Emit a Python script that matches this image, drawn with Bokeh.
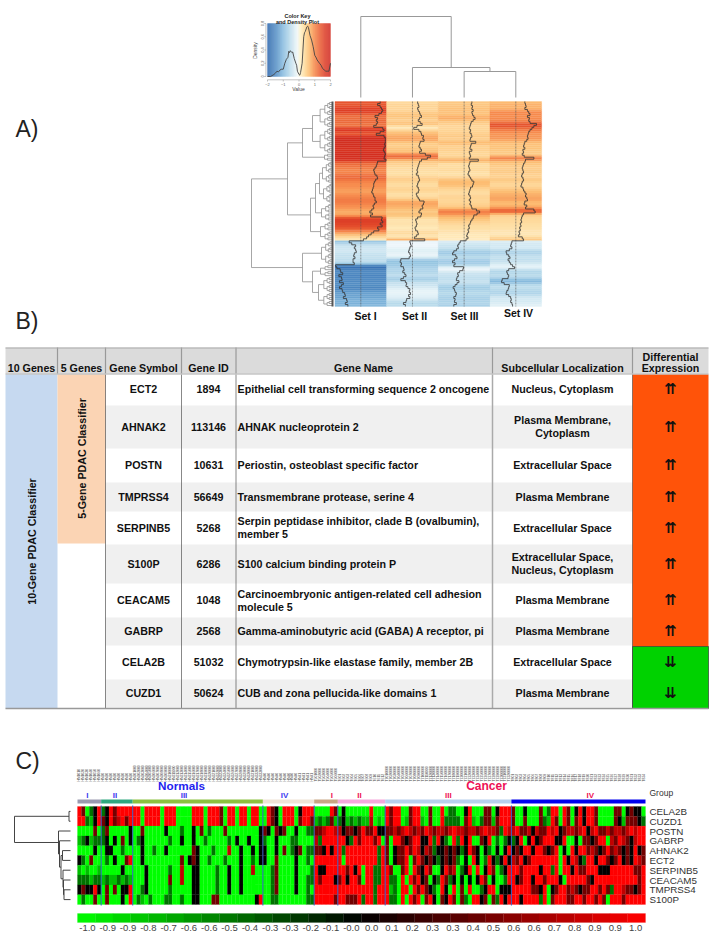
import numpy as np
from bokeh.plotting import figure
from bokeh.models import Range1d, ColumnDataSource, LinearColorMapper
from bokeh.core.properties import value
from bokeh.embed import file_html
from bokeh.resources import INLINE

FONT = value("Liberation Sans")

# ---------- Panel A data ----------
set_names = ["Set I", "Set II", "Set III", "Set IV"]
set_I = [1.5,1.3,1.5,1.6,1.7,1.6,1.4,1.1,1.3,1.2,
         1.3,1.2,1.0,1.7,1.8,1.5,1.2,1.8,1.9,1.9,
         1.9,1.85,1.9,1.8,1.75,1.85,1.9,1.85,1.8,1.95,
         1.3,1.25,1.2,1.1,1.0,1.05,1.1,1.25,1.3,1.15,
         1.05,1.0,1.0,0.95,0.9,0.85,0.95,1.0,1.1,1.1,
         1.2,1.05,0.95,1.0,0.85,0.7,0.9,0.75,
         1.65,1.6,1.7,1.5,1.65,1.3,1.4,
         1.0,0.8,0.6,0.45,0.2,
         -0.9,-0.7,-0.4,-0.5,-0.4,-0.35,-0.5,-0.55,-0.45,-0.6,-0.6,
         -0.5,-1.95,-1.85,-1.6,-1.55,-1.4,-1.7,-1.5,-1.45,-1.65,-1.35,-1.5,-1.65,-1.45,-1.4,-1.25,-1.2,-1.35,-1.1,-1.05,-1.2,-1.0]
set_II = [.4,.45,.5,.4,.45,.55,.6,.7,.55,.45,
          .6,.75,.35,.1,.5,.65,.7,.85,.8,.9,
          .6,.55,.5,.6,.7,.55,1.0,1.4,1.15,.7,
          .55,.5,.45,.4,.35,.4,.3,.45,.5,.55,
          .45,.4,.35,.45,.5,.45,.3,.35,.45,.55,
          .9,.85,.75,.8,.6,.5,.7,.65,.4,.25,
          .3,.35,.3,.2,.25,.4,.45,.3,.15,.95,
          -.2,-.15,-.1,-.2,-.25,-.3,-.2,-.15,-.25,-.9,-.95,
          -.85,-.9,-.7,-.65,-.75,-.6,-.5,-.7,-.9,-.55,-.45,-.5,-.35,-.2,-.25,-.15,-.3,-.2,-.45,-.5,-.7,-.55]
set_III = [.6,.55,.65,.6,.7,.6,.65,.75,.85,.7,
           .55,.5,.45,.4,.5,.45,.55,.6,.5,.45,
           .9,.55,.5,.45,.6,.4,.45,.5,.4,1.1,
           .45,.4,.35,.4,.45,.35,.3,.4,.5,.6,
           .75,.7,.65,.5,.45,.4,.35,.45,.5,.4,
           .5,.45,.55,.6,.95,1.2,1.0,.75,.7,.6,
           .5,.45,.35,.4,.3,.35,.25,.2,.3,.15,
           -.3,-.4,-.5,-.45,-.6,-.8,-.9,-.65,-.55,-.75,-.9,
           -.7,-.8,-.05,-.1,-.35,-.5,-.45,-.55,-.6,-.4,-.55,-.7,-.85,-.75,-.7,-.6,-.65,-.8,-.7,-.75,-.6,-.8]
set_IV = [.7,.75,.8,.7,.9,1.0,1.1,.9,1.05,1.0,
          1.1,1.6,1.4,1.25,1.1,1.0,.95,.9,.95,.85,
          .7,.65,.6,.7,.55,.6,.5,.65,1.4,.75,
          .7,.6,.55,.5,.55,.6,.5,.45,.55,.6,
          .5,.45,.4,.55,.6,.7,.8,.75,.85,.9,
          .7,.65,.85,.75,1.4,1.5,.6,.5,.45,.4,
          .45,.35,.4,.3,.35,.25,.3,.2,.5,.6,
          -.3,-.35,-.4,-.3,-.5,-.75,-.7,-.55,-.45,-.6,-.5,
          -.4,-.25,-.1,-.55,-.7,-.65,-.55,-.6,-1.05,-1.1,-.9,-.5,-.55,-.6,-.7,-.75,-.55,-.4,-.35,-.4,-.3,-.25]
density_x = [-2,-1.8,-1.6,-1.5,-1.4,-1.3,-1.2,-1.1,-1,-.9,-.8,-.7,-.65,-.6,-.55,-.45,-.4,-.3,-.2,-.15,-.1,0,.05,.1,.2,.25,.3,.35,.4,.5,.55,.6,.7,.8,.9,1,1.1,1.15,1.3,1.4,1.5,1.6,1.7,1.8,1.9,2]
density_y = [0,0,.03,.05,.08,.07,.1,.11,.11,.2,.26,.29,.38,.36,.39,.36,.37,.27,.2,.17,.08,.03,.02,.06,.2,.4,.6,.66,.68,.75,.76,.74,.62,.55,.45,.32,.28,.25,.2,.17,.12,.1,.08,.08,.08,.2]
key_ticks_x = [-2,-1,0,1,2]
key_ticks_y = [0,.2,.4,.6,.8]
col_tree = (81,0,(30,1,(26,2,3)))
row_tree = (81,
    (45,(30,('c',0,25,20),('c',26,29,8)),
        (22,(17,(13,('c',30,40,10),('c',41,50,9)),('c',51,59,11)),('c',60,69,12))),
    (30,('c',70,81,11),
        (20,('c',82,87,12),('c',88,102,14))))

# ---------- Panel B data ----------
genes = ["ECT2","AHNAK2","POSTN","TMPRSS4","SERPINB5","S100P","CEACAM5","GABRP","CELA2B","CUZD1"]
gene_ids = ["1894","113146","10631","56649","5268","6286","1048","2568","51032","50624"]
gene_names = [["Epithelial cell transforming sequence 2 oncogene"],["AHNAK nucleoprotein 2"],
              ["Periostin, osteoblast specific factor"],["Transmembrane protease, serine 4"],
              ["Serpin peptidase inhibitor, clade B (ovalbumin),","member 5"],["S100 calcium binding protein P"],
              ["Carcinoembryonic antigen-related cell adhesion","molecule 5"],
              ["Gamma-aminobutyric acid (GABA) A receptor, pi"],["Chymotrypsin-like elastase family, member 2B"],
              ["CUB and zona pellucida-like domains 1"]]
locations = [["Nucleus, Cytoplasm"],["Plasma Membrane,","Cytoplasm"],["Extracellular Space"],["Plasma Membrane"],
             ["Extracellular Space"],["Extracellular Space,","Nucleus, Cytoplasm"],["Plasma Membrane"],
             ["Plasma Membrane"],["Extracellular Space"],["Plasma Membrane"]]
direction = ["up"]*8 + ["down"]*2
table_rows = [374,404,449,481,512,543,584,616,646,678,708]
table_cols = [5,57,105,181,235.5,492,632,708]
headers = [("10 Genes",31),("5 Genes",81),("Gene Symbol",143),("Gene ID",208),("Gene Name",363),("Subcellular Localization",562)]

# ---------- Panel C data ----------
heat_genes = ["CELA2B","CUZD1","POSTN","GABRP","AHNAK2","ECT2","SERPINB5","CEACAM5","TMPRSS4","S100P"]
level = {"G":-1,"g":-.75,"d":-.45,"k":0,"m":.45,"r":.75,"R":1}
CELA2B = ["RmGdkR","dkRmRRRR","RRGRRRRGRRRGGGGRRRGRRRmGRRGRRGRRG","GRmkGRRRGkRRR","GGGGRm","GkGGGGGGRGGG","RmRRGGmRRGGmGGRGddGGkRGGGmmGkRRR","mGGkGGGmGdRRGRmGkRkRRmGGGGmmGkmkkG"]
CUZD1 = ["RRdgkR","mkRmrRmR","RRGRRRRGRRRGGGGRRRGRRRmGRRGRRGRRG","GRmkGRRRGmRRm","gdgdmg","dkgdgdggrGgG","RmRRGgmRRgGmGGRddddGmRgGdmmgmRRR","mGGmGGGmdgRmGRmGmRkRRmGGGGmkgmmmkd"]
POSTN = ["GGGGmG","dmGGGGGk","GGmGGGGGkGGGdGGkGmGdGGGmGGGGGGGGk","mkGmkmGGkGGdd","mmrRRr","rkmmkmRmmRkk","mmrmrRrmrmRrmrrmrRrrmrrmrRrrmdRr","rRmmrkrmmRrRkmrrmrRkrRmmrmrrmrRrRR"]
GABRP = ["gdkgdd","dkGkGmGk","GdkGGGGGGdGGkGGkGGdGGGGGdGkGGkGGk","dGGkGGGddGGGG","rdRRRR","RRkdRmRRRmRG","mGRRmkmRRkkRdRkdGRdRkRGGmkRGdGdk","dkRGkRkmRRRkkRGGkGmmkmRRGrmRrmkrRR"]
AHNAK2 = ["GGGGkG","GkkGGdGG","GGkGGdGGkGGGGGGmkGGGdGGGrGGkGGkGk","kGGkGmGdkmGdd","mmkRkR","RdRRRRRRRRdR","mGkmmRmRrkrmdkkmkmkdkRmkGkdGkGkR","kmkRRkRRmkmRGkGRkRRmrmkmRmrmkmkRkm"]
ECT2 = ["kdGmGG","GdGkGGmR","GGkGGGGGGGGGmGkmkGGdGGGdGGGkGGdGk","kGGmGGGGkGGdG","RRRRRR","RGRRRRRRRRdR","mGkmmRGmRmkmkdkmkmdGkGRkGdRkdkRk","rmRkmRRRRRRRGRkRrkdRRkRRmkmRkmkRrm"]
SERPINB5 = ["gGgGGg","GGGGGkGG","GGGkGGGGGdGGrGGkkGGGGdGGkGGkGGrGG","GGdmGGGGkGGGd","RkkRRR","RRmRkRGRRddR","RmGGmRGRmkRmGGkRmrGdkRGRGkRmGdkR","RRmRRRRkRRdRGRRkRmmRRRkkkRRRRRRmmR"]
CEACAM5 = ["dddgdd","gdggdgdg","GGGkGGGGGmGGrGGkkGGGGdGGkGGkGGGGG","GGdmGGGGkGGdd","RmRRRk","mRkRRmGRRddR","RddGRGRmRkmGkdRmdkGkGkGkRmGkGGdR","RkmRRkRRmRRRkGRRRRRmkRRRRRRRRRRRmR"]
TMPRSS4 = ["kmkkRk","GmGmGkkR","GGdkGGGGGdGGGGGkkGGGGdGGkGGkGGGGG","GGdmGGGGkGGdG","RRRRRR","RRRRRRRRRdRR","RgdGRRGRmRmkdGRkGRGmGRGGdkRRGkkk","RRRRRmmkRGkmRRmrmkmmRRmRmdRRrmmkmR"]
S100P = ["GdGGmG","GmGGGkGR","GdgGdGGGddGGdGGkkGGGmmGGGGGGGGGkR","GGddGGGGGGGdd","RRRRRm","RRmmmRdRRdRR","RddGRGRmRGmRkGmkRmGmdGRRkmGmdRkR","RRkRRRRdRGmRRRmmRRmRRmRmGRRRmRRRRR"]
heat_rows = [CELA2B,CUZD1,POSTN,GABRP,AHNAK2,ECT2,SERPINB5,CEACAM5,TMPRSS4,S100P]
group_counts = [6,8,33,13,6,12,32,34]
group_names = ["I","II","III","IV","I","II","III","IV"]
group_label_samples = [2.5,9.5,27,52.5,64.5,71.5,94,130]
group_colors = ["#9a9ab0","#2fa77f","#8cc13f","#efe3d6","#c9a684","#f5a8dc","#b7d0ee","#0000ee"]
group_text = ["#3a3af0"]*4 + ["#ee1155"]*4
group_sample_len = [6,4,8,4,7,4,8,4]
sample_prefix = ["HN","HN","HN","HN","T","T","T","T"]
heat_tree = (56,(1.5,0,1),(12,2,(11,3,(9.5,(8,4,5),(7.5,6,(7,7,(6.5,8,9)))))))
cbar_labels = ["-1.0","-0.9","-0.9","-0.8","-0.7","-0.6","-0.6","-0.5","-0.4","-0.3","-0.3","-0.2","-0.1","-0.0",
               "0.0","0.1","0.2","0.3","0.3","0.4","0.5","0.6","0.6","0.7","0.8","0.9","0.9","1.0"]

# ---------- figure ----------
L, R_, T, B = 0, 712, 0, 942
p = figure(width=R_-L, height=B-T, x_range=Range1d(L, R_), y_range=Range1d(B, T),
           output_backend="svg", toolbar_location=None, min_border=0,
           x_axis_location=None, y_axis_location=None)
p.grid.visible = False
p.outline_line_color = None
p.background_fill_color = "white"

def xscale(name, v0, p0, v1, p1):
    k = (v1-v0)/(p1-p0)
    p.extra_x_ranges[name] = Range1d(v0+(L-p0)*k, v0+(R_-p0)*k)
def yscale(name, v0, p0, v1, p1):
    k = (v1-v0)/(p1-p0)
    p.extra_y_ranges[name] = Range1d(v0+(B-p0)*k, v0+(T-p0)*k)

def txt(x, y, s, size, color="#111111", bold=False, align="center", angle=0, font=FONT, **kw):
    xs = x if isinstance(x, (list, np.ndarray)) else [x]
    ys = y if isinstance(y, (list, np.ndarray)) else [y]
    ss = s if isinstance(s, list) else [s]
    p.text(x=xs, y=ys, text=ss, text_font=font, text_font_size=size, text_color=color,
           text_font_style="bold" if bold else "normal", text_align=align,
           text_baseline="middle", angle=angle, **kw)

def dendro(tree, swap):
    segs = []
    def walk(n):
        if isinstance(n, int):
            return n + (0.5 if swap == "row" else 0), 0
        if n[0] == 'c':
            _, lo, hi, h = n
            if lo == hi:
                return walk(lo)
            mid = (lo+hi)//2
            n = (h, ('c', lo, mid, h*.62), ('c', mid+1, hi, h*.62))
        h, a, b = n
        pa, ha = walk(a)
        pb, hb = walk(b)
        segs.append(([pa, pa, pb, pb], [ha, h, h, hb]))
        return (pa+pb)/2, h
    walk(tree)
    return segs

# ---------- panel labels ----------
txt(15, 128, "A)", "23px", color="#222222", align="left")
txt(15, 320, "B)", "23px", color="#222222", align="left")
txt(15, 760, "C)", "23px", color="#222222", align="left")

# ---------- Panel A ----------
stops_v = [-2,-1.4,-1,-.5,-.1,.1,.4,.7,1.0,1.4,1.7,2]
stops_c = ["#2a64ac","#5a94c8","#8cbfe0","#c6e2ef","#f2f9fb","#fff4d0","#fedca0","#fdbe74","#f78d50","#e85a32","#dc3a25","#d02a1f"]
def rgb(h): return np.array([int(h[i:i+2],16) for i in (1,3,5)], float)
arr = np.array([rgb(c) for c in stops_c])
grid = np.linspace(-2,2,256)
ryb = ["#%02x%02x%02x" % tuple(int(round(np.interp(g, stops_v, arr[:,i]))) for i in range(3)) for g in grid]
ryb_map = LinearColorMapper(palette=ryb, low=-2, high=2)

xscale("col", 0, 360.3, 3, 515.3)
yscale("row", 0, 101, 103, 306)
xscale("rowh", 0, 332, 81, 251)
yscale("colh", 0, 97, 81, 16)

sets = [set_I, set_II, set_III, set_IV]
clust_break = 70  # first row of the lower (blue) cluster
l, r, t, b, v = [], [], [], [], []
for c, s in enumerate(sets):
    for i, val in enumerate(s):
        # colours are drawn slightly softened within each cluster, as in the reference image
        lo = s[i-1] if i > 0 and i != clust_break else val
        hi = s[i+1] if i < len(s)-1 and i != clust_break-1 else val
        l.append(c-.5); r.append(c+.5); t.append(i); b.append(i+1); v.append(.25*lo+.5*val+.25*hi)
src = ColumnDataSource(dict(l=l, r=r, t=t, b=b, v=v))
p.quad(left="l", right="r", top="t", bottom="b", source=src, x_range_name="col", y_range_name="row",
       fill_color={"field":"v","transform":ryb_map}, line_color={"field":"v","transform":ryb_map}, line_width=0.3)

for c, s in enumerate(sets):
    p.line([c, c], [0, len(s)], x_range_name="col", y_range_name="row", line_color="#555555", line_dash="2 1", line_width=0.6)
    xs, ys = [], []
    for i, val in enumerate(s):
        xs += [c+val/4, c+val/4]; ys += [i, i+1]
    p.line(xs, ys, x_range_name="col", y_range_name="row", line_color="#333333", line_width=0.8)

segs = dendro(col_tree, "col")
p.multi_line([s[0] for s in segs], [s[1] for s in segs], x_range_name="col", y_range_name="colh", line_color="#999999", line_width=1)
segs = dendro(row_tree, "row")
p.multi_line([s[1] for s in segs], [s[0] for s in segs], x_range_name="rowh", y_range_name="row", line_color="#909090", line_width=0.8)
p.line([0, 0], [0, 103], x_range_name="rowh", y_range_name="row", line_color="#555555", line_width=2)

txt([365,414,464], [315,315,315], set_names[:3], "10.5px", bold=True)
txt(518, 312, set_names[3], "10.5px", bold=True)

# colour key
xscale("key", -2, 267, 2, 330)
yscale("dens", 0, 76, .8, 23)
edges = np.linspace(-2, 2, 65)
ksrc = ColumnDataSource(dict(l=edges[:-1], r=edges[1:], v=(edges[:-1]+edges[1:])/2,
                             t=[.8]*64, b=[0]*64))
p.quad(left="l", right="r", top="t", bottom="b", source=ksrc, x_range_name="key", y_range_name="dens",
       fill_color={"field":"v","transform":ryb_map}, line_color={"field":"v","transform":ryb_map}, line_width=0.2)
p.line(density_x, density_y, x_range_name="key", y_range_name="dens", line_color="#444444", line_width=0.9)
# key axes
p.line(key_ticks_x, [-.05]*5, x_range_name="key", y_range_name="dens", line_color="#888888", line_width=0.5)
p.segment(key_ticks_x, [-.05]*5, key_ticks_x, [-.075]*5, x_range_name="key", y_range_name="dens", line_color="#888888", line_width=0.5)
p.line([-2.1]*5, key_ticks_y, x_range_name="key", y_range_name="dens", line_color="#888888", line_width=0.5)
p.segment([-2.1]*5, key_ticks_y, [-2.2]*5, key_ticks_y, x_range_name="key", y_range_name="dens", line_color="#888888", line_width=0.5)
p.text(x=key_ticks_x, y=[-.12]*5, text=[str(k).replace("-","\u2212") for k in key_ticks_x], x_range_name="key", y_range_name="dens",
       text_font=FONT, text_font_size="4px", text_color="#666666", text_align="center", text_baseline="middle")
p.text(x=[-2.32]*5, y=key_ticks_y, text=["0","0.2","0.4","0.6","0.8"], x_range_name="key", y_range_name="dens", angle=np.pi/2,
       text_font=FONT, text_font_size="4px", text_color="#666666", text_align="center", text_baseline="middle")
txt(297, 15, "Color Key", "5.5px", bold=True, color="#222222")
txt(297, 21, "and Density Plot", "5.5px", bold=True, color="#222222")
txt(298, 88, "Value", "5px", color="#444444")
txt(254, 50, "Density", "5px", color="#444444", angle=np.pi/2)

# ---------- Panel B ----------
rt, rb = table_rows[:-1], table_rows[1:]
tx = table_cols
p.quad(left=[tx[0]], right=[tx[-1]], top=[347], bottom=[373], fill_color="#dbdbdb", line_color=None)
shade = [i for i in range(10) if i % 2 == 1]
p.quad(left=[tx[2]]*len(shade), right=[tx[6]]*len(shade), top=[rt[i]+1 for i in shade], bottom=[rb[i]-1 for i in shade],
       fill_color="#f0f0f0", line_color=None)
p.quad(left=[tx[0]], right=[tx[1]], top=[rt[0]], bottom=[rb[-1]], fill_color="#c6d9f0", line_color=None)
p.quad(left=[tx[1]], right=[tx[2]], top=[rt[0]], bottom=[rb[4]], fill_color="#fbd4b4", line_color=None)
ups = [i for i, d in enumerate(direction) if d == "up"]
downs = [i for i, d in enumerate(direction) if d == "down"]
p.quad(left=[tx[6]], right=[tx[7]], top=[rt[ups[0]]], bottom=[rb[ups[-1]]], fill_color="#ff5309", line_color=None)
p.quad(left=[tx[6]], right=[tx[7]], top=[rt[downs[0]]], bottom=[rb[downs[-1]]], fill_color="#00d200", line_color="#222222", line_width=0.6)
# dividers
p.segment([57,105,181,235.5,492,632],[347]*6,[57,105,181,235.5,492,632],[373]*6, line_color="#999999", line_width=1.2)
p.segment([105,181,235.5],[374]*3,[105,181,235.5],[708]*3, line_color="#555555", line_width=0.7)
p.segment([492],[374],[492],[708], line_color="#aaaaaa", line_width=1.5)
p.segment([632],[374],[632],[708], line_color="#444444", line_width=0.6)
p.segment([5,5],[347.5,373.5],[708,708],[347.5,373.5], line_color="#aaaaaa", line_width=1)
p.segment([5],[708],[708],[708], line_color="#999999", line_width=1.5)
# headers
TS = "10.7px"
for s, x in headers:
    txt(x, 367.5, s, TS, bold=True)
txt(670, 356.5, "Differential", TS, bold=True)
txt(670, 367.5, "Expression", TS, bold=True)
txt(31, 541, "10-Gene PDAC Classifier", TS, bold=True, angle=np.pi/2)
txt(81, 458, "5-Gene PDAC Classifier", TS, bold=True, angle=np.pi/2)
for i in range(10):
    yc = (rt[i]+rb[i])/2 - .5
    txt(143, yc, genes[i], TS, bold=True)
    txt(208, yc, gene_ids[i], TS, bold=True)
    n = gene_names[i]
    for j, s in enumerate(n):
        txt(237, yc+(j-(len(n)-1)/2)*13, s, TS, bold=True, align="left")
    n = locations[i]
    for j, s in enumerate(n):
        txt(562, yc+(j-(len(n)-1)/2)*13, s, TS, bold=True)
    txt(670, yc, "\u21c8" if direction[i] == "up" else "\u21ca", "15px", color="#111111", bold=True, font=value("DejaVu Sans"))

# ---------- Panel C ----------
gr_map = LinearColorMapper(palette=["#%02x%02x00" % (max(0,int(round(255*x))), max(0,int(round(-255*x)))) for x in np.linspace(-1,1,256)], low=-1, high=1)
xscale("samp", 0, 77, sum(group_counts), 645)
yscale("gene", 0, 806, 10, 904)
starts = np.cumsum([0]+group_counts)
l, r, t, b, v = [], [], [], [], []
for ri, row in enumerate(heat_rows):
    for gi, seg in enumerate(row):
        w = group_counts[gi]/len(seg)
        for j, ch in enumerate(seg):
            l.append(starts[gi]+j*w); r.append(starts[gi]+(j+1)*w); t.append(ri); b.append(ri+1); v.append(level[ch])
csrc = ColumnDataSource(dict(l=l, r=r, t=t, b=b, v=v))
p.quad(left="l", right="r", top="t", bottom="b", source=csrc, x_range_name="samp", y_range_name="gene",
       fill_color={"field":"v","transform":gr_map}, line_color={"field":"v","transform":gr_map}, line_width=0.2)

# group bar and lines
p.quad(left=starts[:-1], right=starts[1:], top=[799]*8, bottom=[803]*8, x_range_name="samp",
       fill_color=group_colors, line_color=None)
inner = list(starts[1:-1])
p.segment(inner, [805]*7, inner, [905]*7, x_range_name="samp", line_color="#3560c8", line_width=1)
for gi, nm in enumerate(group_names):
    p.text(x=[group_label_samples[gi]], y=[795], text=[nm], x_range_name="samp", text_font=FONT, text_font_size="8px",
           text_font_style="bold", text_color=group_text[gi], text_align="center", text_baseline="middle")
txt(181, 785, "Normals", "11.7px", color="#2222ee", bold=True)
txt(486, 785, "Cancer", "12px", color="#ee1155", bold=True)
txt(649, 792, "Group", "8.5px", color="#333333", align="left")
p.text(x=[649]*10, y=[i+.5 for i in range(10)], text=heat_genes, y_range_name="gene", text_font=FONT,
       text_font_size="9.8px", text_color="#333333", text_align="left", text_baseline="middle")

# tiny sample labels
sx, ss = [], []
for gi, c in enumerate(group_counts):
    for j in range(c):
        sx.append(starts[gi]+j+.5)
        nm = f"{sample_prefix[gi]}{gi+1}{j+1:02d}"
        ss.append((nm + "00000000")[:group_sample_len[gi]])
p.text(x=sx, y=[781]*len(sx), text=ss, x_range_name="samp", angle=np.pi/2, text_font=FONT, text_font_size="3.4px",
       text_color="#444444", text_align="left", text_baseline="middle")

# dendrogram
xscale("geneh", 0, 70, 56, 14)
segs = dendro(heat_tree, "row")
p.multi_line([s[1] for s in segs], [s[0] for s in segs], x_range_name="geneh", y_range_name="gene", line_color="#444444", line_width=1)

# colour bar
xscale("cv", -1, 77, 1, 645)
ce = np.linspace(-1, 1, 33)
bsrc = ColumnDataSource(dict(l=ce[:-1], r=ce[1:], v=(ce[:-1]+ce[1:])/2, t=[913]*32, b=[922]*32))
p.quad(left="l", right="r", top="t", bottom="b", source=bsrc, x_range_name="cv",
       fill_color={"field":"v","transform":gr_map}, line_color={"field":"v","transform":gr_map}, line_width=0.2)
cx = np.linspace(-.965, .965, len(cbar_labels))
p.text(x=cx, y=[927.5]*len(cx), text=cbar_labels, x_range_name="cv", text_font=FONT, text_font_size="9.5px",
       text_color="#444444", text_align="center", text_baseline="middle")

open("out.html", "w").write(file_html(p, INLINE))
